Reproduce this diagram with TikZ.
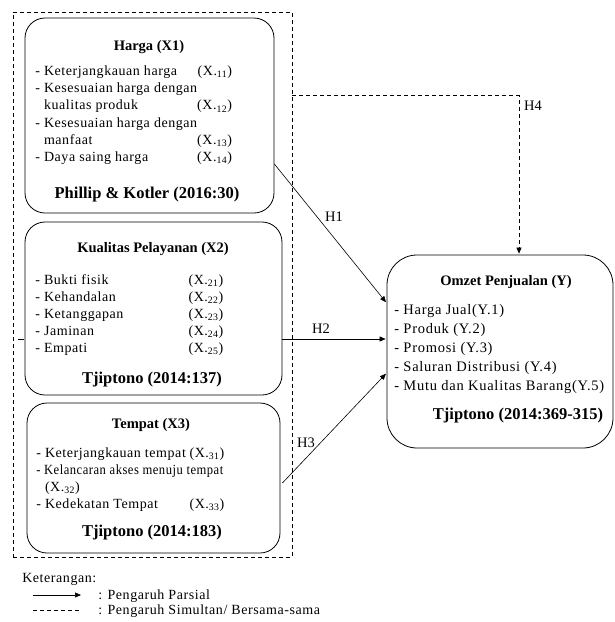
\documentclass[tikz,border=0pt]{standalone}
\usepackage{fontspec}
\setmainfont{Liberation Serif}
\newfontfamily\isi[LetterSpace=4]{Liberation Serif}
\newfontfamily\isiY[LetterSpace=5]{Liberation Serif}
\usepackage{tikz}
\usetikzlibrary{positioning, arrows.meta}

\newcommand{\kode}[1]{(X.\textsubscript{#1})}

\begin{document}
\begin{tikzpicture}[x=1pt,y=-1pt,->,>={Triangle[length=6pt,width=5pt]},shorten >=1pt,semithick]
\tikzstyle{kotak}=[draw=black,fill=white,rounded corners=20pt,line width=0.8pt,inner sep=0pt]
\tikzstyle{judul}=[anchor=base,inner sep=0pt,font=\bfseries\fontsize{14.5}{17}\selectfont]
\tikzstyle{sumber}=[anchor=base,inner sep=0pt,font=\bfseries\fontsize{16.5}{19}\selectfont]
\tikzstyle{daftar}=[anchor=base west,inner sep=0pt,font=\isi\fontsize{14}{17.2}\selectfont]
\tikzstyle{daftarY}=[anchor=base west,inner sep=0pt,font=\isiY\fontsize{14.5}{19.2}\selectfont]
\tikzstyle{hip}=[inner sep=0pt,font=\fontsize{14.5}{17}\selectfont]
\tikzstyle{ket}=[anchor=base west,inner sep=0pt,font=\isi\fontsize{14}{17}\selectfont]

\useasboundingbox (0,0) rectangle (614,622);

% kelompok variabel bebas
\node[draw,dash pattern=on 4pt off 3pt,line width=0.6pt,minimum width=279pt,minimum height=545pt,inner sep=0pt] (grup) at (152.5,284.5) {};

% harga
\node[kotak,minimum width=249pt,minimum height=195pt] (X1) at (149.5,115.5) {};
\node[judul] (X1judul) at (149,50) {Harga (X1)};
\node[daftar] (X1isi) at (35,75.5) {\begin{tabular*}{188pt}[t]{@{}l@{\extracolsep{\fill}}r@{}}
- Keterjangkauan harga & \kode{11}\\
- Kesesuaian harga dengan & \\
\phantom{- }kualitas produk & \kode{12}\\
- Kesesuaian harga dengan & \\
\phantom{- }manfaat & \kode{13}\\
- Daya saing harga & \kode{14}
\end{tabular*}};
\node[sumber] (X1sumber) at (147,198) {Phillip \& Kotler (2016:30)};

% kualitas pelayanan
\node[kotak,minimum width=257pt,minimum height=173pt] (X2) at (153.5,308.5) {};
\node[judul] (X2judul) at (153,252) {Kualitas Pelayanan (X2)};
\node[daftar] (X2isi) at (35,284) {\begin{tabular*}{188pt}[t]{@{}l@{\extracolsep{\fill}}r@{}}
- Bukti fisik & \kode{21}\\
- Kehandalan & \kode{22}\\
- Ketanggapan & \kode{23}\\
- Jaminan & \kode{24}\\
- Empati & \kode{25}
\end{tabular*}};
\node[sumber] (X2sumber) at (152,383) {Tjiptono (2014:137)};

% tempat
\node[kotak,minimum width=253pt,minimum height=150pt] (X3) at (153.5,478) {};
\node[judul] (X3judul) at (151,428) {Tempat (X3)};
\node[daftar] (X3isi) at (36,457) {\begin{tabular*}{188pt}[t]{@{}l@{\extracolsep{\fill}}r@{}}
- Keterjangkauan tempat & \kode{31}\\
\multicolumn{2}{@{}l@{}}{\resizebox{187pt}{\height}{- Kelancaran akses menuju tempat}}\\
\phantom{- }\kode{32} & \\
- Kedekatan Tempat & \kode{33}
\end{tabular*}};
\node[sumber] (X3sumber) at (152,536) {Tjiptono (2014:183)};

% omzet penjualan
\node[kotak,rounded corners=30pt,minimum width=226pt,minimum height=193pt] (Y) at (500,351.5) {};
\node[judul] (Yjudul) at (506,285) {Omzet Penjualan (Y)};
\node[daftarY] (Yisi) at (394,314) {\begin{tabular}[t]{@{}l@{}}
- Harga Jual(Y.1)\\
- Produk (Y.2)\\
- Promosi (Y.3)\\
- Saluran Distribusi (Y.4)\\
- Mutu dan Kualitas Barang(Y.5)
\end{tabular}};
\node[sumber] (Ysumber) at (518,419) {Tjiptono (2014:369-315)};

% hipotesis
\coordinate (ekor) at (18,339);
\draw[-] (ekor) -- (ekor -| X2.west);
\draw ([yshift=-48.5pt]X1.east) -- ([yshift=48.5pt]Y.west);
\draw ([yshift=-30.5pt]X2.east) -- ([yshift=12.5pt]Y.west);
\draw ([xshift=2pt,yshift=-5pt]X3.east) -- ([yshift=-21.5pt]Y.west);
\draw[dash pattern=on 4pt off 3pt] ([yshift=-84pt]grup.north east) -| ([xshift=19pt]Y.north);
\node[hip] (h1) at (334,217) {H1};
\node[hip] (h2) at (321,329) {H2};
\node[hip] (h3) at (306,443) {H3};
\node[hip] (h4) at (533,106) {H4};

% keterangan
\node[ket] (ket) at (22,582) {Keterangan:};
\coordinate (p1) at (33,595);
\coordinate (p2) at (82,595);
\draw (p1) -- (p2);
\node[ket] (parsial) at (98,599) {: Pengaruh Parsial};
\coordinate (s1) at (33,610);
\coordinate (s2) at (82,610);
\draw[-,dash pattern=on 4pt off 3pt] (s1) -- (s2);
\node[ket] (simultan) at (98,614) {: Pengaruh Simultan/ Bersama-sama};
\end{tikzpicture}
\end{document}
